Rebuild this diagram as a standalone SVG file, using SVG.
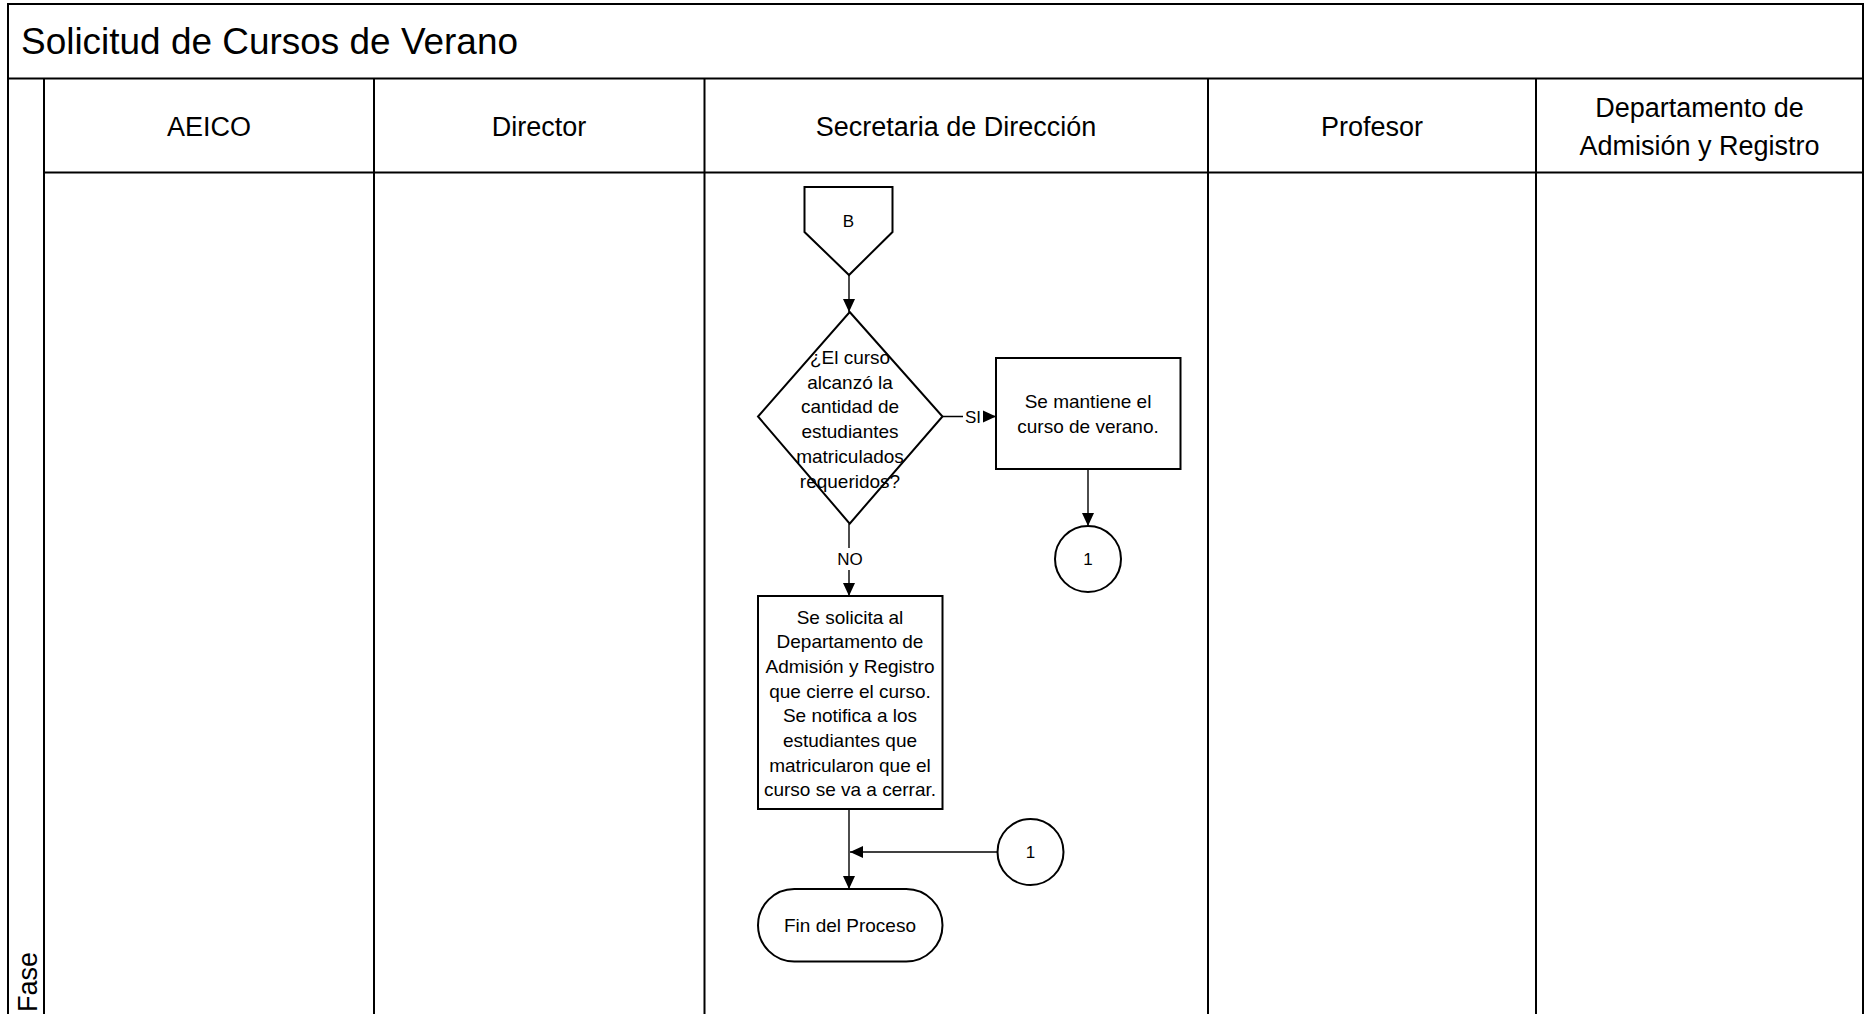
<svg xmlns="http://www.w3.org/2000/svg" width="1866" height="1014" viewBox="0 0 1866 1014">
  <style>
    .frame { fill: none; stroke: #000; stroke-width: 2; }
    .lane { fill: none; stroke: #000; stroke-width: 2; }
    .shape { fill: #fff; stroke: #000; stroke-width: 2; }
    .wire { fill: none; stroke: #000; stroke-width: 1.4; }
    text { font-family: "Liberation Sans", Arial, sans-serif; fill: #000; }
    .title { font-size: 37px; }
    .hdr { font-size: 27px; text-anchor: middle; }
    .lbl { font-size: 19px; text-anchor: middle; }
    .sm { font-size: 17px; text-anchor: middle; }
  </style>
  <defs>
    <marker id="arrow" markerUnits="userSpaceOnUse" markerWidth="14" markerHeight="14" refX="13" refY="7" orient="auto">
      <path d="M0,1 L13,7 L0,13 z" fill="#000"/>
    </marker>
  </defs>

  <rect x="0" y="0" width="1866" height="1014" fill="#fff"/>

  <!-- pool frame, title band and lanes -->
  <g id="pool">
    <rect class="frame" x="8" y="4" width="1855" height="1030"/>
    <line class="frame" x1="8" y1="78.5" x2="1863" y2="78.5"/>
    <text class="title" x="21" y="54" textLength="497" lengthAdjust="spacingAndGlyphs">Solicitud de Cursos de Verano</text>
    <line class="lane" x1="44" y1="78.5" x2="44" y2="1014"/>
    <line class="lane" x1="374" y1="78.5" x2="374" y2="1014"/>
    <line class="lane" x1="704.5" y1="78.5" x2="704.5" y2="1014"/>
    <line class="lane" x1="1208" y1="78.5" x2="1208" y2="1014"/>
    <line class="lane" x1="1536" y1="78.5" x2="1536" y2="1014"/>
    <line class="lane" x1="44" y1="172.5" x2="1863" y2="172.5"/>
    <text class="hdr" x="209" y="135.5">AEICO</text>
    <text class="hdr" x="539" y="135.5">Director</text>
    <text class="hdr" x="956" y="135.5">Secretaria de Dirección</text>
    <text class="hdr" x="1372" y="135.5">Profesor</text>
    <text class="hdr" x="1699.5" y="116.5">Departamento de</text>
    <text class="hdr" x="1699.5" y="154.5">Admisión y Registro</text>
    <text class="hdr" transform="translate(36.5,1012) rotate(-90)" style="text-anchor:start">Fase</text>
  </g>

  <!-- connectors -->
  <g id="connectors">
    <line class="wire" x1="849" y1="275" x2="849" y2="312" marker-end="url(#arrow)"/>
    <line class="wire" x1="942.5" y1="416.5" x2="996" y2="416.5" marker-end="url(#arrow)"/>
    <rect x="963" y="405" width="20" height="22" fill="#fff"/>
    <text class="sm" x="973" y="422.5">SI</text>
    <line class="wire" x1="849" y1="523.6" x2="849" y2="596" marker-end="url(#arrow)"/>
    <rect x="836" y="548" width="27" height="22" fill="#fff"/>
    <text class="sm" x="850" y="565">NO</text>
    <line class="wire" x1="1088" y1="469" x2="1088" y2="526" marker-end="url(#arrow)"/>
    <line class="wire" x1="849" y1="809" x2="849" y2="889" marker-end="url(#arrow)"/>
    <line class="wire" x1="997.5" y1="852" x2="850" y2="852" marker-end="url(#arrow)"/>
  </g>

  <!-- off-page connector B -->
  <g id="node-b">
    <path class="shape" d="M804.5,187 H892.5 V232 L849,275 L804.5,232 Z"/>
    <text class="sm" x="848.5" y="227">B</text>
  </g>

  <!-- decision -->
  <g id="node-decision">
    <path class="shape" d="M849.7,312 L942.5,416.5 L849.7,523.6 L758,416.5 Z"/>
    <text class="lbl" x="850" y="364">¿El curso</text>
    <text class="lbl" x="850" y="388.5">alcanzó la</text>
    <text class="lbl" x="850" y="413">cantidad de</text>
    <text class="lbl" x="850" y="438">estudiantes</text>
    <text class="lbl" x="850" y="462.5">matriculados</text>
    <text class="lbl" x="850" y="487.5">requeridos?</text>
  </g>

  <!-- course kept -->
  <g id="node-keep">
    <rect class="shape" x="996" y="358" width="184.5" height="111"/>
    <text class="lbl" x="1088" y="408">Se mantiene el</text>
    <text class="lbl" x="1088" y="433">curso de verano.</text>
  </g>

  <!-- on-page connector 1 (out) -->
  <g id="node-c1-out">
    <circle class="shape" cx="1088" cy="559" r="33"/>
    <text class="sm" x="1088" y="565">1</text>
  </g>

  <!-- close request -->
  <g id="node-close">
    <rect class="shape" x="758" y="596" width="184.5" height="213"/>
    <text class="lbl" x="850" y="623.5">Se solicita al</text>
    <text class="lbl" x="850" y="648">Departamento de</text>
    <text class="lbl" x="850" y="673">Admisión y Registro</text>
    <text class="lbl" x="850" y="697.5">que cierre el curso.</text>
    <text class="lbl" x="850" y="722">Se notifica a los</text>
    <text class="lbl" x="850" y="747">estudiantes que</text>
    <text class="lbl" x="850" y="771.5">matricularon que el</text>
    <text class="lbl" x="850" y="796">curso se va a cerrar.</text>
  </g>

  <!-- on-page connector 1 (in) -->
  <g id="node-c1-in">
    <circle class="shape" cx="1030.5" cy="852" r="33"/>
    <text class="sm" x="1030.5" y="858">1</text>
  </g>

  <!-- end -->
  <g id="node-end">
    <rect class="shape" x="758" y="889" width="184.5" height="72.5" rx="36.25" ry="36.25"/>
    <text class="lbl" x="850" y="932">Fin del Proceso</text>
  </g>
</svg>
